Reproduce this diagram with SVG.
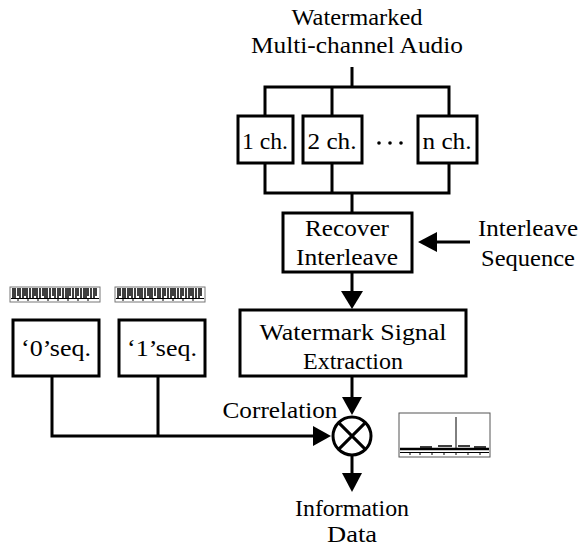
<svg xmlns="http://www.w3.org/2000/svg" width="584" height="551" viewBox="0 0 584 551">
<style>
text{font-family:'Liberation Serif','Times New Roman',serif;font-size:23px;fill:#000;text-anchor:middle}
.b{fill:#fff;stroke:#000;stroke-width:3}
.l{fill:none;stroke:#000;stroke-width:3}
</style>
<rect width="584" height="551" fill="#fff"/>

<g id="title" font-family="Liberation Serif">
<text x="357" y="25" textLength="131" lengthAdjust="spacingAndGlyphs">Watermarked</text>
<text x="357" y="53" textLength="212" lengthAdjust="spacingAndGlyphs">Multi-channel Audio</text>
</g>

<g id="connectors">
<path class="l" d="M352,67 V87 M265,116 V87 H449 V116 M332,87 V116"/>
<path class="l" d="M265,163 V193 H449 V163 M332,163 V193 M352,193 V213"/>
<path d="M352,272 V292" class="l"/>
<path d="M341,291 L363,291 L352,309 z" fill="#000"/>
<path class="l" d="M470,242 H436"/>
<path d="M437,232 L437,252 L418,242 z" fill="#000"/>
<path class="l" d="M352,376 V398"/>
<path d="M342,397 L362,397 L352,415 z" fill="#000"/>
<path class="l" d="M52,376 V436 H314 M158,376 V436"/>
<path d="M313,426 L313,446 L331,436 z" fill="#000"/>
<path class="l" d="M352,456 V474"/>
<path d="M342,473 L362,473 L352,492 z" fill="#000"/>
</g>

<g id="ch1"><rect class="b" x="238" y="116" width="55" height="47"/><text x="265" y="149" textLength="46" lengthAdjust="spacingAndGlyphs">1 ch.</text></g>
<g id="ch2"><rect class="b" x="303" y="116" width="59" height="47"/><text x="332" y="149" textLength="49" lengthAdjust="spacingAndGlyphs">2 ch.</text></g>
<g id="dots" fill="#000"><circle cx="379" cy="143" r="1.8"/><circle cx="390" cy="143" r="1.8"/><circle cx="401" cy="143" r="1.8"/></g>
<g id="chn"><rect class="b" x="418" y="116" width="59" height="47"/><text x="447" y="149" textLength="49" lengthAdjust="spacingAndGlyphs">n ch.</text></g>

<g id="recover"><rect class="b" x="283" y="213" width="129" height="59"/>
<text x="347" y="236" textLength="84" lengthAdjust="spacingAndGlyphs">Recover</text>
<text x="347" y="265" textLength="102" lengthAdjust="spacingAndGlyphs">Interleave</text></g>

<g id="interleave-seq">
<text x="528" y="236" textLength="100" lengthAdjust="spacingAndGlyphs">Interleave</text>
<text x="528" y="266" textLength="94" lengthAdjust="spacingAndGlyphs">Sequence</text></g>

<g id="extraction"><rect class="b" x="240" y="310" width="226" height="66"/>
<text x="353" y="340" textLength="187" lengthAdjust="spacingAndGlyphs">Watermark Signal</text>
<text x="353" y="369" textLength="100" lengthAdjust="spacingAndGlyphs">Extraction</text></g>

<g id="seq0"><rect class="b" x="13" y="320" width="86" height="56"/>
<text x="56" y="356" textLength="70" lengthAdjust="spacingAndGlyphs">‘0’seq.</text></g>
<g id="seq1"><rect class="b" x="119" y="320" width="86" height="56"/>
<text x="162" y="356" textLength="70" lengthAdjust="spacingAndGlyphs">‘1’seq.</text></g>

<g id="thumb0">
<rect x="10" y="287" width="90" height="15" fill="#fff" stroke="#777" stroke-width="1"/>
<path stroke="#000" stroke-width="1.5" d="M13,288V298 M15,288V298 M18,288V296 M20,288V298 M23,288V298 M25,288V296 M27,288V298 M30,288V298 M33,288V298 M35,288V296 M37,288V298 M40,288V298 M43,288V296 M45,288V298 M47,288V298 M50,288V298 M53,288V296 M55,288V298 M58,288V298 M60,288V296 M63,288V298 M66,288V298 M68,288V298 M70,288V296 M73,288V298 M76,288V298 M78,288V296 M81,288V298 M84,288V298 M86,288V298 M88,288V296 M91,288V298 M94,288V298 M96,288V296"/>
<path stroke="#000" stroke-width="1" d="M11,298.5H99 M18,299V301 M28,299V301 M38,299V301 M48,299V301 M58,299V301 M68,299V301 M78,299V301 M88,299V301"/>
</g>
<g id="thumb1">
<rect x="115" y="287" width="90" height="15" fill="#fff" stroke="#777" stroke-width="1"/>
<path stroke="#000" stroke-width="1.5" d="M118,288V298 M120,288V296 M123,288V298 M125,288V298 M128,288V298 M130,288V296 M132,288V298 M135,288V298 M138,288V296 M140,288V298 M142,288V298 M145,288V298 M148,288V296 M150,288V298 M152,288V298 M155,288V296 M158,288V298 M160,288V298 M163,288V298 M165,288V296 M168,288V298 M171,288V298 M173,288V296 M175,288V298 M178,288V298 M181,288V298 M183,288V296 M186,288V298 M189,288V298 M191,288V296 M193,288V298 M196,288V298 M199,288V298 M201,288V296"/>
<path stroke="#000" stroke-width="1" d="M116,298.5H204 M123,299V301 M133,299V301 M143,299V301 M153,299V301 M163,299V301 M173,299V301 M183,299V301 M193,299V301"/>
</g>

<g id="correlator">
<circle cx="352" cy="436" r="19" fill="#fff" stroke="#000" stroke-width="3"/>
<path class="l" d="M338.6,422.6 L365.4,449.4 M365.4,422.6 L338.6,449.4"/>
<text x="280" y="418" textLength="115" lengthAdjust="spacingAndGlyphs">Correlation</text>
</g>

<g id="spectrum">
<rect x="399" y="413" width="91" height="44" fill="#fff" stroke="#555" stroke-width="1"/>
<path stroke="#000" stroke-width="1" d="M456,417V450"/>
<path stroke="#000" stroke-width="2.5" d="M400,449H489"/>
<path stroke="#000" stroke-width="1.5" d="M420,447H432 M438,446H452 M458,446H470 M474,447H486"/>
<path stroke="#000" stroke-width="1" d="M400,452.5H489 M410,453V455 M420,453V455 M432,453V455 M444,453V455 M456,453V455 M468,453V455 M480,453V455"/>
</g>

<g id="output">
<text x="352" y="516" textLength="114" lengthAdjust="spacingAndGlyphs">Information</text>
<text x="352" y="542" textLength="50" lengthAdjust="spacingAndGlyphs">Data</text>
</g>
</svg>
